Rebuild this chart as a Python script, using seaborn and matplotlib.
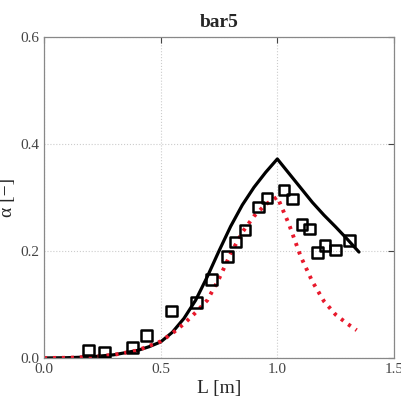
import numpy as np
import pandas as pd
import matplotlib
matplotlib.use("Agg")
import matplotlib.pyplot as plt
import seaborn as sns

# measured points (squares)
meas_L = [0.19, 0.26, 0.38, 0.44, 0.546, 0.654, 0.719, 0.786, 0.822, 0.862,
          0.919, 0.956, 1.029, 1.066, 1.106, 1.137, 1.171, 1.204, 1.249, 1.309]
meas_a = [0.015, 0.011, 0.020, 0.042, 0.088, 0.104, 0.146, 0.189, 0.217, 0.239,
          0.282, 0.299, 0.314, 0.297, 0.250, 0.241, 0.197, 0.210, 0.202, 0.219]

# model 1 (black solid)
m1_L = [0.0, 0.1, 0.2, 0.3, 0.4, 0.45, 0.5, 0.55, 0.6, 0.65, 0.7, 0.75,
        0.8, 0.85, 0.9, 0.95, 1.0, 1.05, 1.1, 1.15, 1.2, 1.25, 1.3, 1.35]
m1_a = [0.0, 0.0005, 0.002, 0.006, 0.014, 0.021, 0.030, 0.048, 0.074, 0.108, 0.152, 0.200,
        0.246, 0.286, 0.319, 0.347, 0.372, 0.345, 0.318, 0.291, 0.267, 0.245, 0.222, 0.198]

# model 2 (red dotted)
m2_L = [0.0, 0.1, 0.2, 0.3, 0.4, 0.5, 0.55, 0.6, 0.65, 0.7, 0.75, 0.8, 0.85, 0.9,
        0.95, 1.0, 1.05, 1.1, 1.15, 1.2, 1.25, 1.3, 1.34]
m2_a = [0.0, 0.0004, 0.002, 0.006, 0.014, 0.031, 0.046, 0.064, 0.085, 0.108, 0.148, 0.195,
        0.235, 0.265, 0.287, 0.301, 0.250, 0.190, 0.143, 0.106, 0.081, 0.064, 0.052]

sns.set_style("white")
plt.rcParams['font.family'] = ['Liberation Serif', 'DejaVu Serif']

fig = plt.figure(figsize=(4.01, 3.96), dpi=100)
ax = fig.add_axes([0.1097, 0.096, 0.8728, 0.8106])

sns.lineplot(x=m1_L, y=m1_a, ax=ax, color='black', linewidth=2.3, sort=False)
sns.lineplot(x=m2_L, y=m2_a, ax=ax, color='#e8192c', linewidth=2.8, sort=False,
             linestyle=(0, (0.8, 1.5)))
sns.scatterplot(x=meas_L, y=meas_a, ax=ax, marker='s', s=60, facecolors='none',
                edgecolor='black', linewidth=1.8, zorder=5)

ax.set_xlim(0, 1.5)
ax.set_ylim(0, 0.6)
ax.set_xticks([0.0, 0.5, 1.0, 1.5])
ax.set_yticks([0.0, 0.2, 0.4, 0.6])
ax.set_xticklabels(['0.0', '0.5', '1.0', '1.5'])
ax.set_yticklabels(['0.0', '0.2', '0.4', '0.6'])
ax.grid(True, linestyle=':', color='#cccccc', linewidth=0.8)
ax.tick_params(direction='in', length=4, labelsize=11, colors='#444444',
               top=True, right=True, width=0.8)
for s in ax.spines.values():
    s.set_color('#888888')
    s.set_linewidth(0.9)

ax.set_title('bar5', fontsize=14, fontweight='bold', pad=7)
ax.set_xlabel('L [m]', fontsize=14, labelpad=3)
ax.set_ylabel('α [−]', fontsize=14)
ax.yaxis.set_label_coords(-0.08, 0.5)

fig.savefig('out.png', dpi=100)
